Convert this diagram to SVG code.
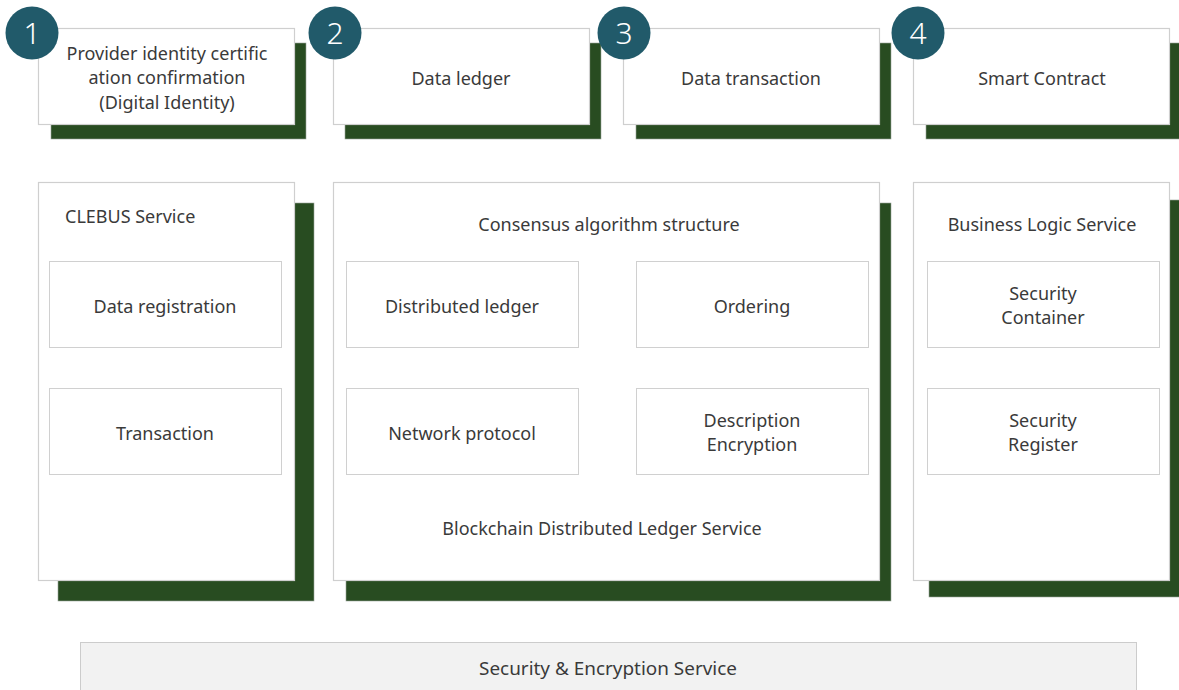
<svg xmlns="http://www.w3.org/2000/svg" width="1179" height="690" viewBox="0 0 1179 690">
<style>
.sh{fill:#284c21;stroke:#9aa49a;stroke-width:0.6}
.bx{fill:#fff;stroke:#cfcfcf;stroke-width:1.2}
.in{fill:#fff;stroke:#d0d0d0;stroke-width:1}
.t{font-family:"Noto Sans","Open Sans",sans-serif;font-size:18px;fill:#3a3a3a;text-anchor:middle}
.tl{text-anchor:start}
.c{fill:#215a6a}
.n{font-family:"Noto Sans","Open Sans",sans-serif;font-size:30px;fill:#fff;text-anchor:middle;font-weight:300}
</style>
<rect width="1179" height="690" fill="#fff"/>
<g id="connectors"></g>
<g id="node1">
<rect class="sh" x="51" y="43" width="255" height="96"/>
<rect class="bx" x="38.5" y="28.5" width="256" height="96"/>
<text class="t" x="167" y="60">Provider identity certific</text>
<text class="t" x="167" y="84">ation confirmation</text>
<text class="t" x="167" y="109">(Digital Identity)</text>
<circle class="c" cx="32" cy="33" r="26.5"/>
<text class="n" x="32" y="44">1</text>
</g>
<g id="node2">
<rect class="sh" x="345" y="43" width="256" height="96"/>
<rect class="bx" x="333.5" y="28.5" width="256" height="96"/>
<text class="t" x="461" y="85">Data ledger</text>
<circle class="c" cx="335" cy="33" r="26.5"/>
<text class="n" x="335" y="44">2</text>
</g>
<g id="node3">
<rect class="sh" x="636" y="43" width="255" height="96"/>
<rect class="bx" x="623.5" y="28.5" width="256" height="96"/>
<text class="t" x="751" y="85">Data transaction</text>
<circle class="c" cx="624" cy="33" r="26.5"/>
<text class="n" x="624" y="44">3</text>
</g>
<g id="node4">
<rect class="sh" x="926" y="43" width="260" height="96"/>
<rect class="bx" x="913.5" y="28.5" width="256" height="96"/>
<text class="t" x="1042" y="85">Smart Contract</text>
<circle class="c" cx="918" cy="33" r="26.5"/>
<text class="n" x="918" y="44">4</text>
</g>
<g id="clebus">
<rect class="sh" x="58" y="203" width="256" height="398"/>
<rect class="bx" x="38.5" y="182.5" width="256" height="398"/>
<text class="t tl" x="65" y="223">CLEBUS Service</text>
<g id="data-registration"><rect class="in" x="49.5" y="261.5" width="232" height="86"/><text class="t" x="165" y="313">Data registration</text></g>
<g id="transaction"><rect class="in" x="49.5" y="388.5" width="232" height="86"/><text class="t" x="165" y="440">Transaction</text></g>
</g>
<g id="blockchain">
<rect class="sh" x="346" y="203" width="545" height="398"/>
<rect class="bx" x="333.5" y="182.5" width="546" height="398"/>
<text class="t" x="609" y="231">Consensus algorithm structure</text>
<g id="distributed-ledger"><rect class="in" x="346.5" y="261.5" width="232" height="86"/><text class="t" x="462" y="313">Distributed ledger</text></g>
<g id="ordering"><rect class="in" x="636.5" y="261.5" width="232" height="86"/><text class="t" x="752" y="313">Ordering</text></g>
<g id="network-protocol"><rect class="in" x="346.5" y="388.5" width="232" height="86"/><text class="t" x="462" y="440">Network protocol</text></g>
<g id="description-encryption"><rect class="in" x="636.5" y="388.5" width="232" height="86"/><text class="t" x="752" y="427">Description</text><text class="t" x="752" y="451">Encryption</text></g>
<text class="t" x="602" y="535">Blockchain Distributed Ledger Service</text>
</g>
<g id="business">
<rect class="sh" x="929" y="200" width="260" height="397"/>
<rect class="bx" x="913.5" y="182.5" width="256" height="398"/>
<text class="t" x="1042" y="231">Business Logic Service</text>
<g id="security-container"><rect class="in" x="927.5" y="261.5" width="232" height="86"/><text class="t" x="1043" y="300">Security</text><text class="t" x="1043" y="324">Container</text></g>
<g id="security-register"><rect class="in" x="927.5" y="388.5" width="232" height="86"/><text class="t" x="1043" y="427">Security</text><text class="t" x="1043" y="451">Register</text></g>
</g>
<g id="security-encryption">
<rect x="80.5" y="642.5" width="1056" height="60" fill="#f2f2f2" stroke="#cccccc" stroke-width="1"/>
<text class="t" x="608" y="675" textLength="258" lengthAdjust="spacingAndGlyphs">Security &amp; Encryption Service</text>
</g>
</svg>
